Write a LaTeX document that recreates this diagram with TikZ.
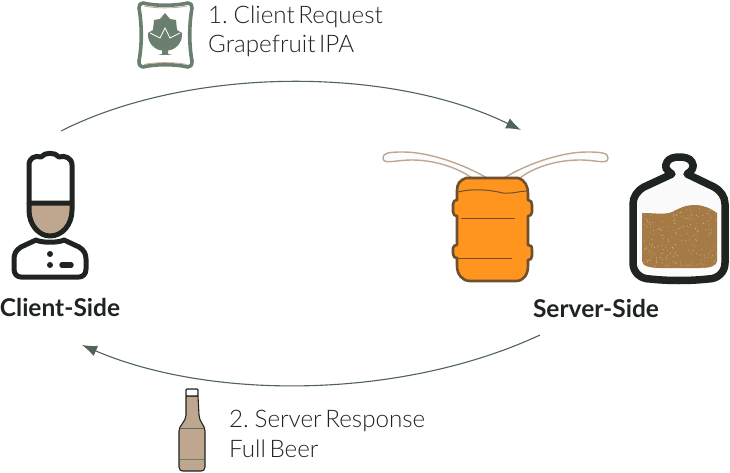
\documentclass[tikz,border=0pt]{standalone}
\usepackage{fontspec}
\setmainfont{Lato}
\newfontfamily\lightfont[WordSpace=0.55]{Lato Light}
\usetikzlibrary{arrows.meta}
\definecolor{ink}{HTML}{1F2421}
\definecolor{sage}{HTML}{6B7F70}
\definecolor{tan}{HTML}{BFA78F}
\definecolor{kegor}{HTML}{FF941E}
\definecolor{kegline}{HTML}{6E4F30}
\definecolor{malt}{HTML}{A67A45}
\definecolor{arc}{HTML}{4F6356}
\tikzset{
  x=1pt,y=-1pt,
  flowarc/.style={draw=arc,line width=1.1pt,-{Latex[length=15pt,width=11pt]}},
  lbl/.style={inner sep=0pt,anchor=north west,align=left,text=ink,font=\lightfont\fontsize{24.2}{29.5}\selectfont},
  side/.style={inner sep=0pt,anchor=center,text=ink,font=\bfseries\fontsize{24.5}{27}\selectfont},
  ikon/.style={draw=ink,line width=5pt,line join=round},
  keg/.style={fill=kegor,draw=kegline,line width=2.6pt,line join=round},
  kegband/.style={draw=kegline,line width=1pt},
  hose/.style={fill=white!97!tan,draw=tan,line width=1.4pt,line join=round},
}
\begin{document}
\begin{tikzpicture}
\useasboundingbox (0,0) rectangle (730,473);
% connectors
\coordinate (reqS) at (61,131);
\coordinate (reqE) at (521,130);
\coordinate (resS) at (540,335);
\coordinate (resE) at (82,345);
\draw[flowarc] (reqS) .. controls (190,66) and (390,66) .. (reqE);
\draw[flowarc] (resS) .. controls (400,400) and (210,400) .. (resE);
% chef
\fill[tan] (30,203) -- (71,203) -- (71,208) .. controls (71,224) and (62,235) .. (50,235) .. controls (39,235) and (30,224) .. (30,208) -- cycle;
\draw[ikon,fill=white] (29,203) -- (29,165) .. controls (29,158) and (35,155) .. (41,157) .. controls (45,152) and (55,152) .. (59,157) .. controls (65,155) and (72,158) .. (72,165) -- (72,203) -- cycle;
\draw[ikon] (29,203) -- (29,210) .. controls (29,225) and (39,236) .. (50,236) .. controls (62,236) and (72,225) .. (72,210) -- (72,203);
\draw[ikon,fill=white] (36,240) .. controls (42,243) and (58,243) .. (64,240) -- (79,247) .. controls (84,250) and (86,254) .. (86,259) -- (86,269) .. controls (86,274) and (83,277) .. (79,277) -- (21,277) .. controls (17,277) and (14,274) .. (14,269) -- (14,259) .. controls (14,254) and (16,250) .. (21,247) -- cycle;
\fill[ink] (50,254) circle (3pt) (50,265) circle (3pt);
\draw[ink,line width=5.5pt,line cap=round] (62,265) -- (71,265);
\node[side] (client) at (60,307) {Client-Side};
% hop label
\draw[sage,line width=3.6pt,fill=white,line join=round] (143,3) .. controls (155,6) and (175,6) .. (188,3) .. controls (191,3) and (192,5) .. (192,8) .. controls (189,25) and (189,45) .. (192,61) .. controls (192,65) and (191,67) .. (188,67) .. controls (175,64) and (155,64) .. (143,67) .. controls (140,67) and (139,65) .. (139,61) .. controls (142,45) and (142,25) .. (139,8) .. controls (139,5) and (140,3) .. (143,3) -- cycle;
\draw[tan,line width=.8pt] (144,6) .. controls (155,8.5) and (175,8.5) .. (187,6) (144,64.5) .. controls (155,62) and (175,62) .. (187,64.5);
\fill[sage] (165,13) -- (170,19) -- (176,20) -- (177,30) -- (182,33) .. controls (183,43) and (175,50) .. (168,50.5) -- (168,54) -- (172,55) -- (158,55) -- (162,54) -- (162,50.5) .. controls (155,50) and (147,43) .. (148,33) -- (153,30) -- (154,20) -- (160,19) -- cycle;
\draw[white,line width=.8pt] (150,33) -- (160,38) -- (165,28) -- (170,38) -- (180,33);
\node[lbl] (req) at (208,5.2) {1. Client Request\\Grapefruit IPA};
% hoses
\draw[hose] (487,178) .. controls (465,165) and (430,152) .. (403,152) .. controls (388,152) and (383,153) .. (383,158) .. controls (383,165) and (395,160) .. (412,160) .. controls (435,160) and (458,168) .. (472,178);
\draw[hose] (504,178) .. controls (525,165) and (560,152) .. (587,152) .. controls (602,152) and (608,153) .. (608,158) .. controls (608,165) and (597,160) .. (580,160) .. controls (555,160) and (533,168) .. (520,178);
% keg
\draw[keg] (466,178) -- (518,178) .. controls (525,180) and (528,186) .. (528,194) -- (528,200) .. controls (531,200) and (532,202) .. (532,205) -- (532,212) .. controls (532,215) and (530,216) .. (528,216) -- (528,245) .. controls (531,245) and (532,246) .. (532,250) -- (532,256) .. controls (532,259) and (530,260) .. (528,260) -- (528,266) .. controls (528,274) and (524,281) .. (516,281) -- (470,281) .. controls (462,281) and (457,274) .. (457,266) -- (457,258) .. controls (455,258) and (453,257) .. (453,254) -- (453,248) .. controls (453,246) and (455,245) .. (457,245) -- (457,216) .. controls (455,216) and (453,215) .. (453,212) -- (453,204) .. controls (453,201) and (455,200) .. (457,200) -- (457,190) .. controls (457,184) and (460,180) .. (466,178) -- cycle;
\draw[kegband] (458,192) .. controls (475,188) and (490,190) .. (503,193) .. controls (512,194) and (520,191) .. (527,191);
\draw[kegband] (461,218) -- (515,218);
\draw[kegband] (458,258) -- (512,258);
% jug
\path[fill=white!98!ink] (668,160) -- (690,160) -- (690,172) -- (716,186) .. controls (722,190) and (725,196) .. (725,203) -- (725,262) .. controls (725,272) and (718,278) .. (710,278) -- (648,278) .. controls (640,278) and (633,272) .. (633,262) -- (633,203) .. controls (633,196) and (636,190) .. (642,186) -- (668,172) -- cycle;
\begin{scope}
\path[clip] (642,213) .. controls (655,213) and (665,215) .. (672,212) .. controls (680,208) and (685,205) .. (695,205) .. controls (703,205) and (710,208) .. (717,213) -- (717,261) .. controls (717,266) and (710,268) .. (700,268) -- (660,268) .. controls (650,268) and (642,266) .. (642,261) -- cycle;
\fill[malt] (640,200) rectangle (720,270);
\pgfmathsetseed{7}
\foreach \k in {1,...,220}{
  \pgfmathsetmacro{\dx}{642+75*rnd}
  \pgfmathsetmacro{\dy}{205+63*rnd}
  \fill[white!60!malt] (\dx,\dy) circle (.4pt);
}
\end{scope}
\draw[ikon,line width=7.5pt] (672,174) .. controls (666,170) and (664,167) .. (667,162) .. controls (669,158) and (675,157) .. (679,157) .. controls (684,157) and (690,158) .. (692,162) .. controls (695,167) and (692,171) .. (687,174) -- (714,187) .. controls (721,191) and (725,197) .. (725,204) -- (725,263) .. controls (725,272) and (718,279) .. (708,279) .. controls (690,281) and (668,281) .. (650,279) .. controls (640,279) and (633,272) .. (633,263) -- (633,204) .. controls (633,197) and (637,191) .. (644,187) -- cycle;
\node[side] (server) at (596,308) {Server-Side};
% bottle
\draw[ink,line width=1.1pt,fill=tan,line join=round] (186,396) -- (198,396) -- (199,415) .. controls (199,422) and (205,425) .. (205,431) -- (205,467) .. controls (205,470) and (203,471) .. (201,471) -- (183,471) .. controls (181,471) and (179,470) .. (179,467) -- (179,431) .. controls (179,425) and (186,422) .. (186,415) -- cycle;
\draw[ink,line width=1.1pt,fill=white,rounded corners=1pt] (186,389) rectangle (198,396);
\draw[ink!70,line width=.7pt] (180,428) -- (204,428);
\draw[sage,line width=1pt] (180,459) -- (204,459);
\node[lbl] (res) at (229,410.2) {2. Server Response\\Full Beer};
\end{tikzpicture}
\end{document}
